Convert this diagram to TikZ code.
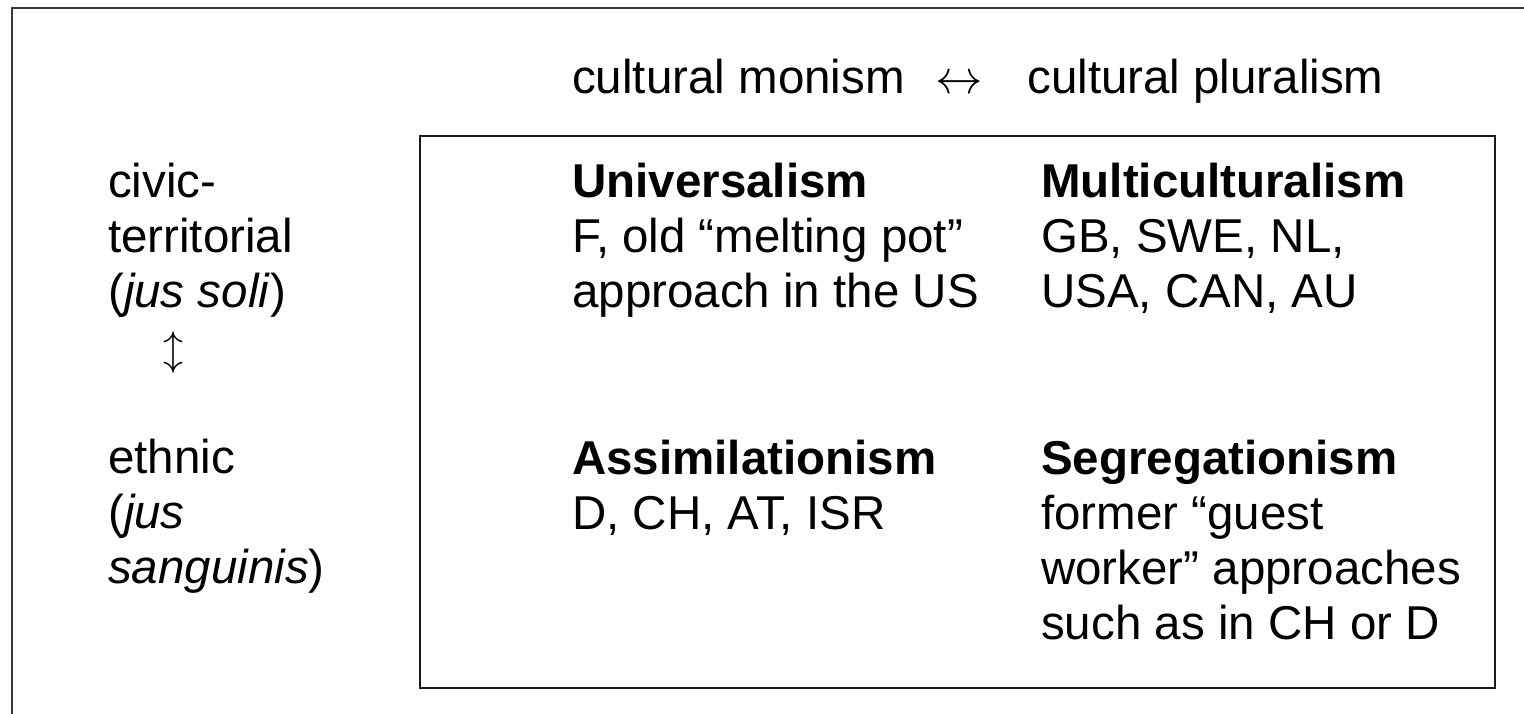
\documentclass[tikz,border=0pt]{standalone}
\usepackage{fix-cm}
\usepackage{fontspec}
\setmainfont{Liberation Sans}
\begin{document}
\begin{tikzpicture}[x=1pt,y=-1pt,
  txt/.style={anchor=base west, align=left, inner sep=0pt, font=\fontsize{47.5}{55}\selectfont},
  frame/.style={draw=black!78, line width=2.6pt},
  quad/.style={draw=black!90, line width=2.4pt, inner sep=0pt, anchor=north west}]
\useasboundingbox (0,0) rectangle (1524,713);
\coordinate (fbl) at (12,715);
\coordinate (ftl) at (12,8);
\coordinate (ftr) at (1526,8);
\draw[frame] (fbl) -- (ftl) -- (ftr);
\node[quad, minimum width=1075pt, minimum height=552pt] (box) at (419,135) {};
\node[txt] (head) at (572,93) {cultural monism\hspace{31pt}$\leftrightarrow$\hspace{44pt}cultural pluralism};
\node[txt] (civic) at (108,307) {civic-\\territorial\\(\textit{jus soli})};
\node[font=\fontsize{40}{40}\selectfont, inner sep=0pt] (vert) at (173,352) {$\updownarrow$};
\node[txt] (ethnic) at (108,583) {ethnic\\(\textit{jus}\\\textit{sanguinis})};
\node[txt] (univ) at (572,307) {\textbf{Universalism}\\F, old “melting pot”\\approach in the US};
\node[txt] (multi) at (1041,307) {\textbf{Multiculturalism}\\GB, SWE, NL,\\USA, CAN, AU};
\node[txt] (assim) at (572,529) {\textbf{Assimilationism}\\D, CH, AT, ISR};
\node[txt] (segr) at (1041,639) {\textbf{Segregationism}\\former “guest\\worker” approaches\\such as in CH or D};
\end{tikzpicture}
\end{document}
